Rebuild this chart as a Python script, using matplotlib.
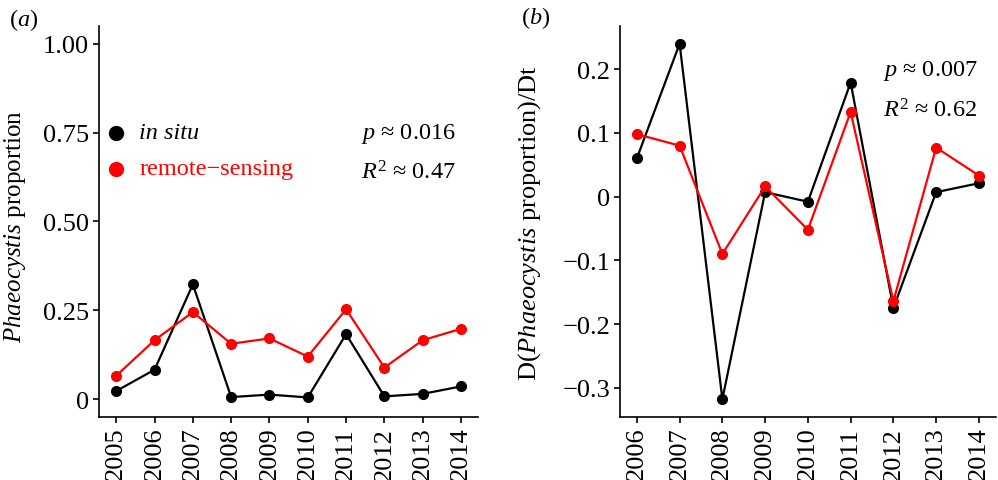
import matplotlib
matplotlib.use("Agg")
import matplotlib.pyplot as plt

plt.rcParams['font.family'] = ['Liberation Serif', 'DejaVu Serif']
plt.rcParams['mathtext.fontset'] = 'custom'
plt.rcParams['mathtext.rm'] = 'Liberation Serif'
plt.rcParams['mathtext.it'] = 'Liberation Serif:italic'
plt.rcParams['font.size'] = 19

# panel (a): yearly Phaeocystis proportion
years_a = [2005, 2006, 2007, 2008, 2009, 2010, 2011, 2012, 2013, 2014]
insitu_a = [0.023, 0.083, 0.323, 0.006, 0.013, 0.005, 0.183, 0.008, 0.015, 0.036]
remote_a = [0.066, 0.166, 0.245, 0.156, 0.171, 0.120, 0.253, 0.089, 0.166, 0.198]
yticks_a = [0, 0.25, 0.5, 0.75, 1.0]
ylabels_a = ['0', '0.25', '0.50', '0.75', '1.00']

# panel (b): year-to-year change
years_b = [2006, 2007, 2008, 2009, 2010, 2011, 2012, 2013, 2014]
insitu_b = [0.060, 0.240, -0.318, 0.007, -0.008, 0.179, -0.175, 0.007, 0.021]
remote_b = [0.098, 0.080, -0.090, 0.016, -0.052, 0.133, -0.164, 0.077, 0.033]
yticks_b = [-0.3, -0.2, -0.1, 0, 0.1, 0.2]
ylabels_b = ['\u22120.3', '\u22120.2', '\u22120.1', '0', '0.1', '0.2']

red = '#ff0000'
ann = 17.5  # size of legend / stats text

fig = plt.figure(figsize=(9.98, 4.81), dpi=100)
ax1 = fig.add_axes([0.0992, 0.131, 0.380, 0.813])
ax2 = fig.add_axes([0.621, 0.131, 0.377, 0.813])


def style(ax, years, yticks, ylabels):
    for s in ['top', 'right']:
        ax.spines[s].set_visible(False)
    for s in ['left', 'bottom']:
        ax.spines[s].set_linewidth(1.2)
    ax.set_xticks(years)
    ax.set_xticklabels([str(y) for y in years], rotation=90)
    ax.set_yticks(yticks)
    ax.set_yticklabels(ylabels)
    ax.tick_params(length=4, width=1.2, pad=3)
    span = years[-1] - years[0]
    ax.set_xlim(years[0] - 0.05 * span, years[-1] + 0.05 * span)


ax1.plot(years_a, insitu_a, color='black', lw=1.6, marker='o', ms=7)
ax1.plot(years_a, remote_a, color=red, lw=1.6, marker='o', ms=7)
style(ax1, years_a, yticks_a, ylabels_a)
ax1.set_ylim(-0.05, 1.05)
ax1.set_ylabel(r'$\mathit{Phaeocystis}$ proportion', fontsize=18)
ax1.yaxis.set_label_coords(-0.187, 0.49)

# legend drawn as text
ax1.plot([2005], [0.75], 'o', color='black', ms=10, clip_on=False)
ax1.plot([2005], [0.648], 'o', color=red, ms=10, clip_on=False)
ax1.text(2005.6, 0.75, 'in situ', style='italic', va='center', ha='left', fontsize=ann)
ax1.text(2005.6, 0.648, 'remote\u2212sensing', color=red, va='center', ha='left', fontsize=ann)
ax1.text(2011.4, 0.75, '$p$ \u2248 0.016', va='center', ha='left', fontsize=ann)
ax1.text(2011.4, 0.64, '$R^2$ \u2248 0.47', va='center', ha='left', fontsize=ann)
fig.text(0.009, 1 - 20 / 481, '($a$)', ha='left', va='center', fontsize=ann)

ax2.plot(years_b, insitu_b, color='black', lw=1.6, marker='o', ms=7)
ax2.plot(years_b, remote_b, color=red, lw=1.6, marker='o', ms=7)
style(ax2, years_b, yticks_b, ylabels_b)
rng = max(max(insitu_b), max(remote_b)) - min(min(insitu_b), min(remote_b))
ax2.set_ylim(min(min(insitu_b), min(remote_b)) - 0.05 * rng,
             max(max(insitu_b), max(remote_b)) + 0.05 * rng)
ax2.set_ylabel(r'D($\mathit{Phaeocystis}$ proportion)/Dt', fontsize=19)
ax2.yaxis.set_label_coords(-0.204, 0.5)
ax2.text(2011.75, 0.198, '$p$ \u2248 0.007', va='center', ha='left', fontsize=ann)
ax2.text(2011.75, 0.136, '$R^2$ \u2248 0.62', va='center', ha='left', fontsize=ann)
fig.text(0.522, 1 - 18 / 481, '($b$)', ha='left', va='center', fontsize=ann)

fig.savefig('out.png', dpi=100)
